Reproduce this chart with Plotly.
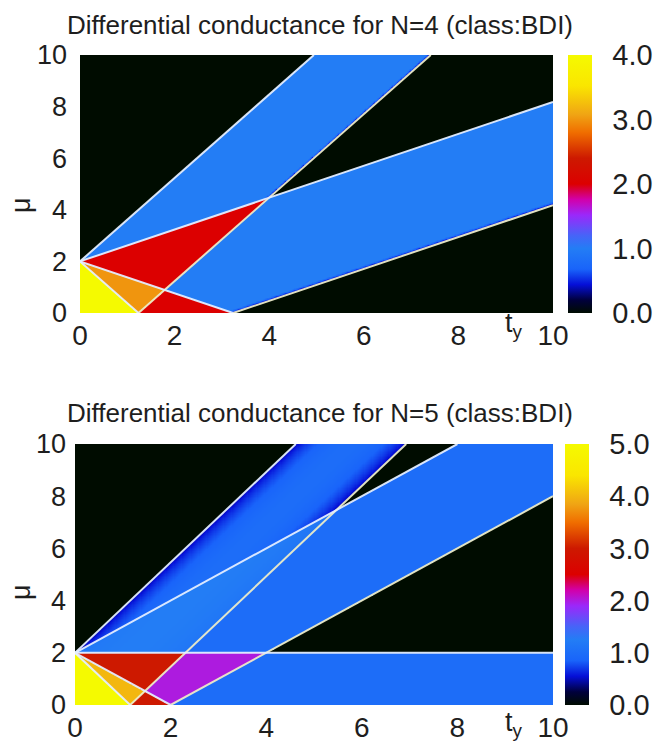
import numpy as np
import plotly.graph_objects as go

# ---- data ----
# transverse-channel energy slopes (eps_k = slope * t_y) for each ladder
slopes_N4 = [1.618, 0.618, -0.618, -1.618]
slopes_N5 = [1.732, 1.0, 0.0, -1.0, -1.732]
band_halfwidth = 2.0          # channel k open when |mu - eps_k| < 2
# N=5, above mu=2: outer channel only partly visible, extra weight in overlap
n5_overlap_extra = 0.25
n5_outer_floor = 0.42
n5_outer_profile_power = 0.6
edge_strip = 0.04             # thin dark strip at lower band edges (fraction of band)
titles = ["Differential conductance for N=4 (class:BDI)",
          "Differential conductance for N=5 (class:BDI)"]
cbar_ticks_N4 = [0, 1, 2, 3, 4]
cbar_ticks_N5 = [0, 1, 2, 3, 4, 5]
x_ticks = [0, 2, 4, 6, 8, 10]
y_ticks = [0, 2, 4, 6, 8, 10]

ty = np.linspace(0, 10, 421)
mu = np.linspace(0, 10, 421)
T, M = np.meshgrid(ty, mu)


def conductance(slopes, shaded):
    w = 2 * band_halfwidth
    act = [(np.abs(M - s * T) < band_halfwidth).astype(float) for s in slopes]
    u = [np.clip((M - (s * T - band_halfwidth)) / w, 0, 1) for s in slopes]
    count = sum(act)
    if not shaded:
        z = count.copy()
        single = count == 1
        for a, uu in zip(act, u):
            strip = np.clip(uu / edge_strip, 0, 1) ** 0.8
            z = np.where(single & (a > 0), strip * 0.9 + 0.1, z)
        return z
    open_mid = act[len(slopes) // 2] > 0
    prof = n5_outer_floor + (1 - n5_outer_floor) * np.sin(np.pi * u[0]) ** n5_outer_profile_power
    f1 = act[0] * prof
    a2 = act[1]
    upper = a2 + f1 * (1 - a2) + n5_overlap_extra * f1 * a2
    return np.where(open_mid, count, upper)


colorscale = [
    [0.00, 'rgb(0,12,0)'],
    [0.05, 'rgb(0,0,60)'],
    [0.11, 'rgb(5,15,215)'],
    [0.17, 'rgb(25,100,250)'],
    [0.25, 'rgb(35,125,245)'],
    [0.30, 'rgb(70,100,248)'],
    [0.38, 'rgb(155,40,250)'],
    [0.44, 'rgb(210,0,170)'],
    [0.50, 'rgb(220,0,0)'],
    [0.60, 'rgb(205,25,0)'],
    [0.70, 'rgb(240,110,0)'],
    [0.77, 'rgb(240,165,20)'],
    [0.88, 'rgb(250,230,0)'],
    [1.00, 'rgb(245,250,0)'],
]

FONT = "Liberation Sans, Arial, sans-serif"
TXT = '#1e1e1e'
fig = go.Figure()

panels = [
    dict(slopes=slopes_N4, shaded=False, ticks=cbar_ticks_N4, xd=[80/672, 553/672],
         yd=[1-313/746, 1-55/746], cbx=568/672, x='x', y='y', ystand=12,
         title_y=25, ty_y=325, mu_y=205),
    dict(slopes=slopes_N5, shaded=True, ticks=cbar_ticks_N5, xd=[75/672, 553/672],
         yd=[1-705/746, 1-444/746], cbx=565/672, x='x2', y='y2', ystand=8,
         title_y=413, ty_y=724, mu_y=592),
]

line_colors = {band_halfwidth: 'rgba(228,238,255,0.95)',
               -band_halfwidth: 'rgba(236,236,200,0.95)'}

layout_axes = {}
for i, p in enumerate(panels):
    z = conductance(p['slopes'], p['shaded'])
    zmax = p['ticks'][-1]
    fig.add_trace(go.Heatmap(
        x=ty, y=mu, z=z, zmin=0, zmax=zmax, colorscale=colorscale,
        xaxis=p['x'], yaxis=p['y'], hoverinfo='skip',
        colorbar=dict(x=p['cbx'], xanchor='left', y=(p['yd'][0]+p['yd'][1])/2,
                      yanchor='middle', len=p['yd'][1]-p['yd'][0], lenmode='fraction',
                      thickness=24, outlinewidth=0, tickvals=p['ticks'],
                      ticktext=[f"{v:.1f}" for v in p['ticks']], ticks='outside',
                      ticklen=15, tickcolor='rgba(0,0,0,0)', xpad=0, ypad=0,
                      tickfont=dict(family=FONT, size=29, color=TXT))))
    # phase boundary lines mu = s*t +/- 2
    for s in p['slopes']:
        for c in (band_halfwidth, -band_halfwidth):
            lo, hi = 0.0, 10.0
            if s != 0:
                a, b = (0 - c) / s, (10 - c) / s
                lo, hi = max(0, min(a, b)), min(10, max(a, b))
            elif not (0 <= c <= 10):
                continue
            if hi <= lo:
                continue
            tt = np.array([lo, hi])
            fig.add_trace(go.Scatter(x=tt, y=s * tt + c, mode='lines',
                                     line=dict(color=line_colors[c], width=2),
                                     xaxis=p['x'], yaxis=p['y'], hoverinfo='skip',
                                     showlegend=False))
    sfx = '' if i == 0 else '2'
    layout_axes['xaxis' + sfx] = dict(range=[0, 10], tickvals=x_ticks, showgrid=False,
                                      zeroline=False, ticks='', ticklabelstandoff=3,
                                      automargin=False,
                                      tickfont=dict(family=FONT, size=28, color=TXT),
                                      domain=p['xd'], anchor='y' + sfx, showline=False)
    layout_axes['yaxis' + sfx] = dict(range=[0, 10], tickvals=y_ticks, showgrid=False,
                                      zeroline=False, ticks='', ticklabelstandoff=p['ystand'],
                                      automargin=False,
                                      tickfont=dict(family=FONT, size=27, color=TXT),
                                      domain=p['yd'], anchor='x' + sfx, showline=False)
    # title
    fig.add_annotation(text=titles[i], xref='paper', yref='paper', x=320/672,
                       y=1 - p['title_y']/746, xanchor='center', yanchor='middle',
                       showarrow=False, font=dict(family=FONT, size=26, color=TXT))
    # axis labels
    fig.add_annotation(text='t<sub>y</sub>', xref='paper', yref='paper', x=514/672,
                       y=1 - p['ty_y']/746, xanchor='center', yanchor='middle',
                       showarrow=False, font=dict(family=FONT, size=27, color=TXT))
    fig.add_annotation(text='\u03bc', xref='paper', yref='paper', x=21/672,
                       y=1 - p['mu_y']/746, xanchor='center',
                       yanchor='middle', textangle=-90, showarrow=False,
                       font=dict(family=FONT, size=27, color=TXT))

fig.update_layout(width=672, height=746,
                  margin=dict(l=0, r=0, t=0, b=0, autoexpand=False),
                  paper_bgcolor='white', plot_bgcolor='white', showlegend=False,
                  **layout_axes)
fig.write_html("out.html")
